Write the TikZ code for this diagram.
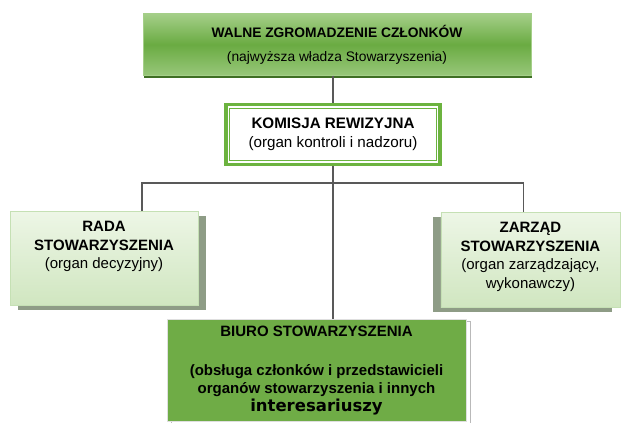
\documentclass[tikz,border=0pt]{standalone}
\usepackage{fontspec}
\setmainfont{Liberation Sans}
\newfontfamily\wideBold{DejaVu Sans}
\usetikzlibrary{positioning}
\usetikzlibrary{shadows}

\definecolor{walneTop}{HTML}{A5CF89}
\definecolor{walneMid}{HTML}{6AAB42}
\definecolor{walneBottom}{HTML}{98C77A}
\definecolor{walneEdge}{HTML}{3F6F24}
\definecolor{officeGreen}{HTML}{6FAC46}
\definecolor{komisjaGreen}{HTML}{6CB33F}
\definecolor{organTop}{HTML}{EDF6E6}
\definecolor{organBottom}{HTML}{D0E6C0}
\definecolor{organLine}{HTML}{C5E0B4}
\definecolor{organShadow}{HTML}{8E9C86}
\definecolor{lineGray}{HTML}{595959}

\begin{document}
\begin{tikzpicture}
    [x=1pt, y=-1pt,
     boxWalne/.style={rectangle, draw=walneTop, top color=walneTop, bottom color=walneBottom, middle color=walneMid, inner sep=0pt, minimum width=388pt, minimum height=62pt, align=center, font=\fontsize{13.8}{17}\selectfont, drop shadow={shadow xshift=1pt, shadow yshift=-2.5pt, fill=walneEdge, opacity=1}},
     boxKomisja/.style={rectangle, draw=komisjaGreen, line width=3.5pt, fill=white, inner sep=0pt, minimum width=214pt, minimum height=60pt, align=center, font=\fontsize{15.2}{19}\selectfont},
     komisjaInner/.style={draw=komisjaGreen, line width=1.2pt},
     boxOrgan/.style={rectangle, draw=organLine, top color=organTop, bottom color=organBottom, inner sep=0pt, font=\fontsize{15}{18.5}\selectfont},
     boxBiuro/.style={rectangle, draw=gray!25, line width=1pt, fill=officeGreen, inner sep=0pt, minimum width=299pt, minimum height=102pt, align=center, font=\fontsize{15}{18}\selectfont\bfseries, drop shadow={shadow xshift=4pt, shadow yshift=-2pt, fill=white, draw=gray!55, opacity=1}},
     connector/.style={draw=lineGray, line width=1.8pt},
    ]
    \useasboundingbox (0,0) rectangle (625,423);

    \node[boxWalne] (walne) at (337,44.5) {\textbf{WALNE ZGROMADZENIE CZŁONKÓW}\\[7pt](najwyższa władza Stowarzyszenia)};
    \node[boxKomisja] (komisja) [below=27pt of walne, xshift=-4pt] {\textbf{KOMISJA REWIZYJNA}\\(organ kontroli i nadzoru)};
    \draw[komisjaInner] ([shift={(5.5,5.5)}]komisja.north west) rectangle ([shift={(-5.5,-5.5)}]komisja.south east);

    \node[boxOrgan, drop shadow={shadow xshift=8pt, shadow yshift=-5pt, fill=organShadow, opacity=1}] (rada) [below left=45pt and 26pt of komisja]
        {\parbox[c][94pt][t]{188pt}{\centering\vspace*{10pt}{\bfseries RADA\\STOWARZYSZENIA\\}(organ decyzyjny)}};
    \node[boxOrgan, drop shadow={shadow xshift=-8pt, shadow yshift=-5pt, fill=organShadow, opacity=1}] (zarzad) [below right=46pt and -1pt of komisja]
        {\parbox[c][95pt][t]{179pt}{\centering\vspace*{10pt}{\bfseries ZARZĄD\\STOWARZYSZENIA\\}(organ zarządzający,\\wykonawczy)}};

    \node[boxBiuro] (biuro) [below=153pt of komisja, xshift=-16.5pt]
        {BIURO STOWARZYSZENIA\\[21pt](obsługa członków i przedstawicieli\\organów stowarzyszenia i innych\\{\wideBold\fontsize{16.5}{18}\selectfont interesariuszy}};

    % connectors
    \coordinate[below=17pt of komisja.south] (branch);
    \draw[connector] (walne.south -| komisja.north) -- (komisja.north);
    \draw[connector] (komisja.south) -- (komisja.south |- biuro.north);
    \draw[connector] ([xshift=38pt]rada.north) |- (branch) -| ([xshift=-7pt]zarzad.north);

\end{tikzpicture}
\end{document}
